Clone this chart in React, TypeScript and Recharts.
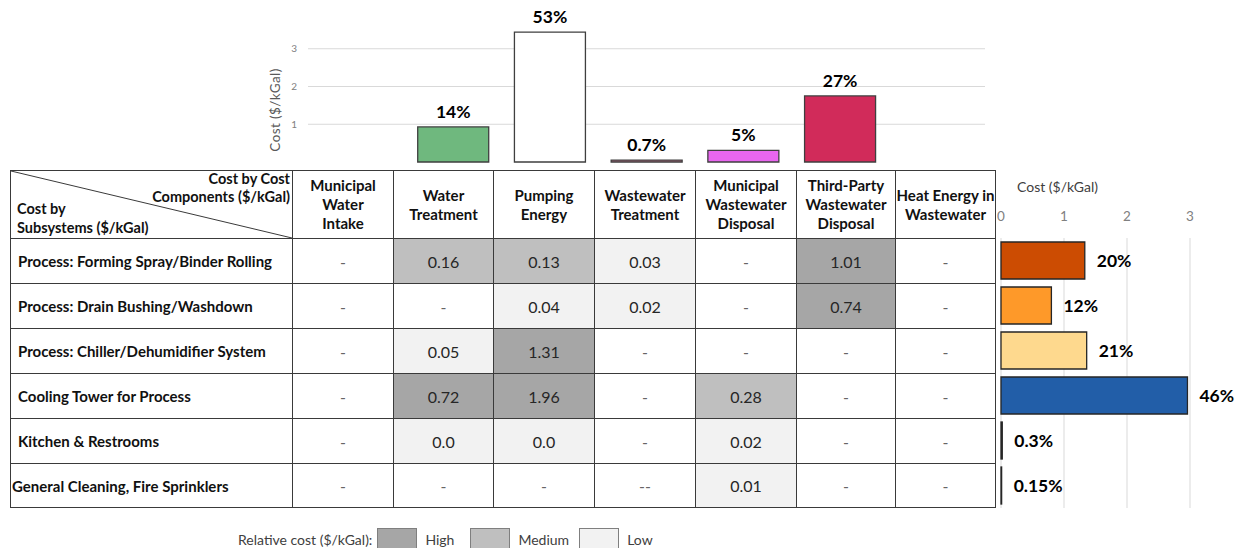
import { BarChart, Bar, Cell, XAxis, YAxis, CartesianGrid, LabelList } from 'recharts';

// Cost components (table columns, top chart categories)
const componentNames = [
  'Municipal\nWater\nIntake',
  'Water\nTreatment',
  'Pumping\nEnergy',
  'Wastewater\nTreatment',
  'Municipal\nWastewater\nDisposal',
  'Third-Party\nWastewater\nDisposal',
  'Heat Energy in\nWastewater',
];
const componentTotals = [null, 0.93, 3.44, 0.05, 0.31, 1.75, null];
const componentShares = [null, '14%', '53%', '0.7%', '5%', '27%', null];
const componentColors = ['none', '#6fb87e', '#ffffff', '#c9728e', '#e866ef', '#d12b5a', 'none'];

// Subsystems (table rows, right chart categories)
const subsystemNames = [
  'Process: Forming Spray/Binder Rolling',
  'Process: Drain Bushing/Washdown',
  'Process: Chiller/Dehumidifier System',
  'Cooling Tower for Process',
  'Kitchen & Restrooms',
  'General Cleaning, Fire Sprinklers',
];
const subsystemTotals = [1.33, 0.8, 1.36, 2.96, 0.02, 0.01];
const subsystemShares = ['20%', '12%', '21%', '46%', '0.3%', '0.15%'];
const subsystemColors = ['#cc4c02', '#fe9929', '#fed98e', '#225ea8', '#111111', '#111111'];

// Cost matrix ($/kGal) and relative cost level per cell
const costCells = [
  ['-', '0.16', '0.13', '0.03', '-', '1.01', '-'],
  ['-', '-', '0.04', '0.02', '-', '0.74', '-'],
  ['-', '0.05', '1.31', '-', '-', '-', '-'],
  ['-', '0.72', '1.96', '-', '0.28', '-', '-'],
  ['-', '0.0', '0.0', '-', '0.02', '-', '-'],
  ['-', '-', '-', '--', '0.01', '-', '-'],
];
const costLevels = [
  ['', 'M', 'M', 'L', '', 'H', ''],
  ['', '', 'L', 'L', '', 'H', ''],
  ['', 'L', 'H', '', '', '', ''],
  ['', 'H', 'H', '', 'M', '', ''],
  ['', 'L', 'L', '', 'L', '', ''],
  ['', '', '', '', 'L', '', ''],
];
const levelNames = ['High', 'Medium', 'Low'];
const levelColors: Record<string, string> = { H: '#a6a6a6', M: '#bfbfbf', L: '#f2f2f2' };
const levelKeys = ['H', 'M', 'L'];

const FONT = 'Lato, "Open Sans", sans-serif';
const LINE = '#3a3a3a';

const componentData = componentNames.map((name, i) => ({
  name,
  cost: componentTotals[i],
  share: componentShares[i],
}));
const subsystemData = subsystemNames.map((name, i) => ({
  name,
  cost: subsystemTotals[i],
  share: subsystemShares[i],
}));

function ComponentChart() {
  return (
    <BarChart
      width={745}
      height={165}
      data={componentData}
      margin={{ top: 11, right: 10, bottom: 3, left: 0 }}
      barCategoryGap={13}
    >
      <CartesianGrid vertical={false} stroke="#d9d9d9" syncWithTicks />
      <XAxis dataKey="name" hide />
      <YAxis
        width={58}
        domain={[0, 4]}
        ticks={[0, 1, 2, 3]}
        axisLine={false}
        tickLine={false}
        tickSize={0}
        tickMargin={11}
        tick={{ fill: '#808080', fontSize: 10, fontFamily: FONT }}
        label={{
          value: 'Cost ($/kGal)',
          content: () => (
            <text
              x={25}
              y={110}
              transform="rotate(-90 25 110)"
              textAnchor="middle"
              dominantBaseline="central"
              fontSize={13.5}
              fill="#595959"
              fontFamily={FONT}
              letterSpacing={0.4}
            >
              Cost ($/kGal)
            </text>
          ),
        }}
      />
      <Bar dataKey="cost" isAnimationActive={false} stroke="#3f3f3f" strokeWidth={1.3}>
        {componentData.map((d, i) => (
          <Cell key={d.name} fill={componentColors[i]} />
        ))}
        <LabelList
          dataKey="share"
          position="top"
          offset={9}
          style={{ fontWeight: 700, fontSize: 17.5, fill: '#000', fontFamily: FONT }}
        />
      </Bar>
    </BarChart>
  );
}

function SubsystemChart() {
  return (
    <BarChart
      layout="vertical"
      width={248}
      height={338}
      data={subsystemData}
      margin={{ top: 38, right: 53, bottom: 0, left: 6 }}
      barCategoryGap={4}
    >
      <CartesianGrid horizontal={false} stroke="#d9d9d9" />
      <XAxis
        type="number"
        orientation="top"
        domain={[0, 3]}
        ticks={[0, 1, 2, 3]}
        height={30}
        axisLine={false}
        tickLine={false}
        tickSize={0}
        tickMargin={17}
        tick={{ fill: '#808080', fontSize: 13.5, fontFamily: FONT }}
        label={{
          value: 'Cost ($/kGal)',
          content: () => (
            <text x={22} y={22} fontSize={14} fill="#404040" fontFamily={FONT}>
              Cost ($/kGal)
            </text>
          ),
        }}
      />
      <YAxis type="category" dataKey="name" hide />
      <Bar dataKey="cost" isAnimationActive={false} stroke="#262626" strokeWidth={1.3}>
        {subsystemData.map((d, i) => (
          <Cell key={d.name} fill={subsystemColors[i]} />
        ))}
        <LabelList
          dataKey="share"
          position="right"
          offset={12}
          style={{ fontWeight: 700, fontSize: 17.5, fill: '#000', fontFamily: FONT }}
        />
      </Bar>
    </BarChart>
  );
}

function CostTable() {
  const center: React.CSSProperties = {
    background: '#fff',
    display: 'flex',
    alignItems: 'center',
    justifyContent: 'center',
    textAlign: 'center',
  };
  return (
    <div
      style={{
        position: 'absolute',
        left: 10,
        top: 170,
        width: 986,
        height: 338,
        boxSizing: 'border-box',
        padding: 1,
        background: LINE,
        display: 'grid',
        gridTemplateColumns: '281px 100px 99px 100px 100px 100px 98px 99px',
        gridTemplateRows: '67px 44px 44px 44px 44px 44px 43px',
        gap: 1,
        color: '#111',
      }}
    >
      <div style={{ position: 'relative', background: '#fff', fontWeight: 700, fontSize: 14.5 }}>
        <svg width={281} height={67} style={{ position: 'absolute', left: 0, top: 0 }}>
          <line x1={0} y1={0} x2={281} y2={67} stroke={LINE} strokeWidth={1} />
        </svg>
        <div style={{ position: 'absolute', right: 2, top: -1, textAlign: 'right', lineHeight: '18px' }}>
          Cost by Cost
          <br />
          Components ($/kGal)
        </div>
        <div style={{ position: 'absolute', left: 6, bottom: 1, lineHeight: '19px' }}>
          Cost by
          <br />
          Subsystems ($/kGal)
        </div>
      </div>
      {componentNames.map((name) => (
        <div
          key={name}
          style={{ ...center, fontWeight: 700, fontSize: 15, lineHeight: '19px', whiteSpace: 'pre' }}
        >
          {name}
        </div>
      ))}
      {subsystemNames.map((name, r) => [
        <div
          key={name}
          style={{
            background: '#fff',
            display: 'flex',
            alignItems: 'center',
            paddingLeft: r === 5 ? 1 : 7,
            fontWeight: 700,
            fontSize: 15,
            whiteSpace: 'nowrap',
          }}
        >
          {name}
        </div>,
        ...costCells[r].map((v, c) => (
          <div
            key={name + c}
            style={{
              ...center,
              background: levelColors[costLevels[r][c]] ?? '#fff',
              fontSize: 16,
              color: v.startsWith('-') ? '#666' : '#262626',
            }}
          >
            {v}
          </div>
        )),
      ])}
    </div>
  );
}

function LevelLegend() {
  return (
    <div
      style={{
        position: 'absolute',
        left: 238,
        top: 528,
        display: 'flex',
        alignItems: 'center',
        fontSize: 14,
        color: '#404040',
        height: 22,
      }}
    >
      <span style={{ marginRight: 5 }}>Relative cost ($/kGal):</span>
      {levelNames.map((name, i) => (
        <span key={name} style={{ display: 'flex', alignItems: 'center' }}>
          <span
            style={{
              width: 40,
              height: 22,
              boxSizing: 'border-box',
              border: '1px solid #7f7f7f',
              background: levelColors[levelKeys[i]],
              marginRight: 8,
            }}
          />
          <span style={{ marginRight: i === 0 ? 16 : 10 }}>{name}</span>
        </span>
      ))}
    </div>
  );
}

export default function App() {
  return (
    <div
      style={{
        position: 'absolute',
        left: 0,
        top: 0,
        width: 1243,
        height: 548,
        overflow: 'hidden',
        background: '#fff',
        fontFamily: FONT,
      }}
    >
      <div style={{ position: 'absolute', left: 250, top: 0 }}>
        <ComponentChart />
      </div>
      <CostTable />
      <div style={{ position: 'absolute', left: 995, top: 170 }}>
        <SubsystemChart />
      </div>
      <LevelLegend />
    </div>
  );
}
